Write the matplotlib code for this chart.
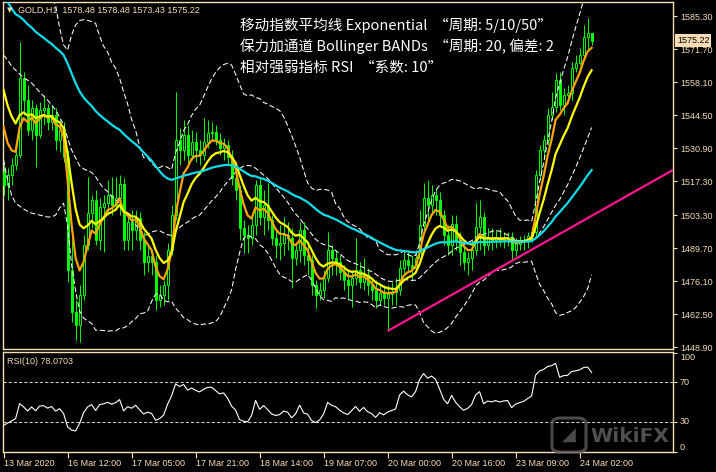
import numpy as np
import pandas as pd
import matplotlib
matplotlib.use("Agg")
import matplotlib.pyplot as plt
from matplotlib.patches import FancyBboxPatch
from matplotlib.transforms import blended_transform_factory

plt.rcParams['font.family'] = ['Liberation Sans', 'DejaVu Sans']

# ---------------- data (GOLD H1) ----------------
opens = [1521.0, 1515.7, 1519.8, 1523.9, 1528.0, 1559.8, 1550.7, 1538.3, 1547.4, 1536.3,
         1546.6, 1547.4, 1541.6, 1544.5, 1534.2, 1538.3, 1527.2, 1480.6, 1463.3, 1458.0,
         1470.3, 1490.9, 1504.1, 1509.5, 1493.0, 1506.6, 1508.2, 1511.5, 1507.4, 1510.3,
         1516.1, 1493.0, 1500.4, 1497.1, 1502.1, 1493.0, 1483.9, 1486.4, 1483.9, 1468.3,
         1470.3, 1474.4, 1488.9, 1503.3, 1534.2, 1530.1, 1536.3, 1528.0, 1533.4, 1530.1,
         1528.0, 1533.4, 1537.1, 1537.5, 1534.2, 1530.9, 1532.2, 1527.2, 1518.5, 1513.6,
         1497.9, 1495.1, 1493.8, 1499.2, 1515.7, 1502.5, 1507.4, 1501.2, 1493.8, 1490.9,
         1491.8, 1495.1, 1493.8, 1485.6, 1488.9, 1497.1, 1486.8, 1484.8, 1474.4, 1470.3,
         1472.4, 1477.3, 1488.9, 1485.6, 1483.9, 1479.8, 1476.5, 1474.4, 1477.3, 1480.6,
         1475.7, 1478.6, 1474.4, 1472.4, 1468.3, 1471.2, 1469.1, 1470.7, 1471.6, 1472.4,
         1481.5, 1484.8, 1482.7, 1481.5, 1485.6, 1499.2, 1510.3, 1507.4, 1511.5, 1509.5,
         1503.3, 1495.1, 1490.9, 1499.6, 1493.0, 1488.1, 1483.9, 1485.6, 1488.9, 1498.4,
         1502.5, 1490.9, 1493.8, 1493.0, 1494.2, 1493.0, 1493.8, 1494.2, 1488.9, 1491.3,
         1492.2, 1493.0, 1494.7, 1496.3, 1519.8, 1530.1, 1534.2, 1544.5, 1547.8, 1558.9,
         1548.6, 1552.8, 1553.6, 1563.9, 1565.9, 1569.2, 1576.7, 1578.48]
highs = [1523.9, 1522.7, 1526.8, 1533.0, 1574.6, 1562.2, 1556.9, 1550.7, 1549.0, 1549.9,
         1552.8, 1549.0, 1548.6, 1547.4, 1542.4, 1541.6, 1530.1, 1493.0, 1468.3, 1474.4,
         1495.1, 1519.0, 1511.5, 1513.6, 1510.3, 1511.5, 1517.7, 1519.0, 1519.0, 1519.8,
         1518.5, 1503.3, 1505.4, 1505.4, 1504.5, 1496.3, 1490.9, 1488.9, 1486.8, 1474.4,
         1476.5, 1491.8, 1507.4, 1554.0, 1539.1, 1542.4, 1540.4, 1538.3, 1537.5, 1534.2,
         1543.3, 1542.4, 1541.6, 1540.4, 1537.1, 1535.0, 1534.2, 1530.1, 1521.8, 1515.7,
         1501.2, 1499.2, 1503.3, 1517.7, 1518.5, 1513.6, 1516.5, 1503.3, 1497.1, 1499.2,
         1502.5, 1500.4, 1497.9, 1490.9, 1500.4, 1500.4, 1490.9, 1486.8, 1476.5, 1475.7,
         1480.6, 1496.3, 1490.9, 1488.9, 1486.8, 1482.7, 1480.6, 1480.6, 1493.8, 1483.9,
         1485.6, 1481.5, 1477.3, 1476.5, 1475.3, 1474.4, 1474.4, 1475.7, 1477.3, 1484.8,
         1488.1, 1488.9, 1486.8, 1488.9, 1505.4, 1516.5, 1517.7, 1515.7, 1514.4, 1512.8,
         1505.4, 1499.2, 1503.3, 1503.3, 1496.3, 1490.9, 1488.1, 1493.0, 1508.2, 1509.5,
         1504.5, 1497.9, 1497.9, 1497.1, 1497.9, 1496.3, 1496.3, 1496.3, 1493.8, 1494.7,
         1495.1, 1496.3, 1498.8, 1521.8, 1532.2, 1536.3, 1547.4, 1554.0, 1561.8, 1562.2,
         1555.6, 1556.9, 1566.3, 1569.2, 1572.1, 1581.6, 1584.5, 1578.48]
lows = [1511.5, 1509.5, 1515.7, 1521.8, 1526.8, 1544.5, 1536.3, 1534.2, 1523.1, 1535.0,
        1540.4, 1538.3, 1538.3, 1530.1, 1529.3, 1525.1, 1475.7, 1459.2, 1451.8, 1451.0,
        1468.3, 1488.9, 1497.9, 1490.9, 1488.9, 1488.1, 1503.3, 1503.3, 1505.4, 1503.3,
        1488.9, 1488.9, 1488.9, 1493.0, 1488.9, 1478.6, 1479.8, 1478.6, 1464.1, 1465.4,
        1466.2, 1468.3, 1486.8, 1501.2, 1523.9, 1526.0, 1523.9, 1526.0, 1525.1, 1523.9,
        1526.0, 1530.9, 1534.2, 1532.2, 1528.0, 1526.0, 1523.9, 1515.7, 1509.5, 1493.0,
        1487.6, 1487.6, 1490.9, 1495.1, 1499.2, 1495.1, 1497.1, 1490.9, 1485.6, 1484.8,
        1486.8, 1488.9, 1473.2, 1482.7, 1483.9, 1482.7, 1478.6, 1470.3, 1465.0, 1468.3,
        1469.1, 1475.7, 1478.6, 1478.6, 1476.5, 1472.4, 1468.3, 1465.4, 1474.4, 1473.2,
        1472.4, 1470.3, 1468.3, 1465.0, 1466.2, 1466.2, 1455.9, 1466.2, 1466.2, 1470.3,
        1478.6, 1479.8, 1476.5, 1479.8, 1483.9, 1496.3, 1499.2, 1503.3, 1503.3, 1499.2,
        1490.9, 1486.8, 1486.8, 1488.9, 1482.7, 1480.6, 1478.6, 1480.6, 1486.8, 1488.9,
        1486.8, 1488.9, 1488.9, 1489.7, 1490.5, 1489.7, 1490.5, 1484.8, 1486.4, 1488.9,
        1488.9, 1489.7, 1492.2, 1494.7, 1517.7, 1526.8, 1532.2, 1542.4, 1545.7, 1546.6,
        1544.5, 1550.7, 1550.7, 1562.2, 1565.1, 1568.0, 1571.3, 1573.43]
closes = [1515.7, 1519.8, 1523.9, 1528.0, 1559.8, 1550.7, 1538.3, 1547.4, 1536.3, 1546.6,
          1547.4, 1541.6, 1544.5, 1534.2, 1538.3, 1527.2, 1480.6, 1463.3, 1458.0, 1470.3,
          1490.9, 1504.1, 1509.5, 1493.0, 1506.6, 1508.2, 1511.5, 1507.4, 1510.3, 1516.1,
          1493.0, 1500.4, 1497.1, 1502.1, 1493.0, 1483.9, 1486.4, 1483.9, 1468.3, 1470.3,
          1474.4, 1488.9, 1503.3, 1534.2, 1530.1, 1536.3, 1528.0, 1533.4, 1530.1, 1528.0,
          1533.4, 1537.1, 1537.5, 1534.2, 1530.9, 1532.2, 1527.2, 1518.5, 1513.6, 1497.9,
          1495.1, 1493.8, 1499.2, 1515.7, 1502.5, 1507.4, 1501.2, 1493.8, 1490.9, 1491.8,
          1495.1, 1493.8, 1485.6, 1488.9, 1497.1, 1486.8, 1484.8, 1474.4, 1470.3, 1472.4,
          1477.3, 1488.9, 1485.6, 1483.9, 1479.8, 1476.5, 1474.4, 1477.3, 1480.6, 1475.7,
          1478.6, 1474.4, 1472.4, 1468.3, 1471.2, 1469.1, 1470.7, 1471.6, 1472.4, 1481.5,
          1484.8, 1482.7, 1481.5, 1485.6, 1499.2, 1510.3, 1507.4, 1511.5, 1509.5, 1503.3,
          1495.1, 1490.9, 1499.6, 1493.0, 1488.1, 1483.9, 1485.6, 1488.9, 1498.4, 1502.5,
          1490.9, 1493.8, 1493.0, 1494.2, 1493.0, 1493.8, 1494.2, 1488.9, 1491.3, 1492.2,
          1493.0, 1494.7, 1496.3, 1519.8, 1530.1, 1534.2, 1544.5, 1547.8, 1558.9, 1548.6,
          1552.8, 1553.6, 1563.9, 1565.9, 1569.2, 1576.7, 1578.5, 1575.22]

# indicator values already running at the first visible bar
ema5_start = 1539.6
ema10_start = 1554.8
ema50_start = 1594.0
rsi_start_gain = 4.0
rsi_start_loss = 11.0
bb_mid_head = [1569.2, 1567.2, 1564.7, 1563.0, 1561.4, 1559.8, 1558.9, 1557.7, 1556.0, 1554.0,
               1552.3, 1550.7, 1548.6, 1546.6, 1543.7, 1540.4, 1535.0, 1530.1, 1526.8]
bb_up_head = [1610.4, 1609.2, 1607.6, 1606.3, 1605.1, 1603.4, 1602.2, 1601.0, 1599.3, 1598.1,
              1596.8, 1595.2, 1593.1, 1589.8, 1580.4, 1573.4, 1571.3, 1577.5, 1581.6]
bb_lo_head = [1526.0, 1517.7, 1511.5, 1508.2, 1507.0, 1505.8, 1504.9, 1504.1, 1503.7, 1503.3,
              1502.9, 1502.5, 1502.5, 1503.3, 1506.2, 1508.2, 1498.8, 1482.7, 1472.0]

trend_bars = [96, 132]
trend_prices = [1455.5, 1489.0]

time_labels = ["13 Mar 2020", "16 Mar 12:00", "17 Mar 05:00", "17 Mar 21:00", "18 Mar 14:00",
               "19 Mar 07:00", "20 Mar 00:00", "20 Mar 16:00", "23 Mar 09:00", "24 Mar 02:00"]
time_label_bars = [0, 16, 32, 48, 64, 80, 96, 112, 128, 144]
price_ticks = [1585.30, 1571.70, 1558.10, 1544.50, 1530.90, 1517.30, 1503.30,
               1489.70, 1476.10, 1462.50, 1448.90]
rsi_ticks = [100, 70, 30, 0]
rsi_levels = [70, 30]
rsi_label = "RSI(10) 78.0703"
notes = ["移动指数平均线 Exponential  “周期: 5/10/50”",
         "保力加通道 Bollinger BANDs  “周期: 20, 偏差: 2",
         "相对强弱指标 RSI  “系数: 10”"]

# ---------------- indicators ----------------
o = np.array(opens); h = np.array(highs); l = np.array(lows); c = np.array(closes)
n = len(c)
xs = np.arange(n)
cs = pd.Series(c)

def seeded_ema(seed, span):
    s = pd.concat([pd.Series([seed]), cs.iloc[1:]], ignore_index=True)
    return s.ewm(span=span, adjust=False).mean().values

ema5 = seeded_ema(ema5_start, 5)
ema10 = seeded_ema(ema10_start, 10)
ema50 = seeded_ema(ema50_start, 50)

mid = cs.rolling(20).mean().values
sd = cs.rolling(20).std(ddof=0).values
up_b = mid + 2 * sd
lo_b = mid - 2 * sd
k = len(bb_mid_head)
mid[:k] = bb_mid_head
up_b[:k] = bb_up_head
lo_b[:k] = bb_lo_head

d = cs.diff()
g = pd.concat([pd.Series([rsi_start_gain]), d.clip(lower=0).iloc[1:]], ignore_index=True)
ls = pd.concat([pd.Series([rsi_start_loss]), (-d.clip(upper=0)).iloc[1:]], ignore_index=True)
ag = g.ewm(alpha=0.1, adjust=False).mean().values
al = ls.ewm(alpha=0.1, adjust=False).mean().values
rsi = 100 * ag / (ag + al)

# ---------------- figure ----------------
W, H = 716, 472
FG = '#F5DEB3'
LIME = '#00FF00'
fig = plt.figure(figsize=(W / 100, H / 100), dpi=100, facecolor='black')

def fx(px):
    return px / W

def fy(py):
    return 1 - py / H

Lx, Rx = 2.7, 673.0
ax = fig.add_axes([fx(Lx), fy(349), (Rx - Lx) / W, (349 - 2) / H], facecolor='black')
ax2 = fig.add_axes([fx(Lx), fy(451.7), (Rx - Lx) / W, (451.7 - 351.7) / H], facecolor='black')

for a in (ax, ax2):
    a.set_xlim(-0.225, 167.35)
    for sp in a.spines.values():
        sp.set_color(FG)
        sp.set_linewidth(1.0)

ax.set_ylim(1448.1, 1591.1)
ax2.set_ylim(0, 101)

# candles
ax.vlines(xs, l, h, colors=LIME, linewidth=0.7, zorder=2)
bull = c >= o
ax.bar(xs[bull], np.maximum(c[bull] - o[bull], 0.15), bottom=o[bull], width=0.5,
       facecolor='black', edgecolor=LIME, linewidth=0.7, zorder=3)
ax.bar(xs[~bull], o[~bull] - c[~bull], bottom=c[~bull], width=0.5,
       facecolor=LIME, edgecolor=LIME, linewidth=0.7, zorder=3)

# Bollinger
for band in (up_b, mid, lo_b):
    ax.plot(xs, band, color='white', linewidth=0.75, linestyle=(0, (5, 2.5)), zorder=4)

# EMAs
ax.plot(xs, ema5, color='#FFA500', linewidth=1.6, zorder=5)
ax.plot(xs, ema10, color='#FFFF00', linewidth=1.6, zorder=6)
ax.plot(xs, ema50, color='#10DCEC', linewidth=1.6, zorder=7)

# trend line (ray to the right)
slope = (trend_prices[1] - trend_prices[0]) / (trend_bars[1] - trend_bars[0])
x_end = ax.get_xlim()[1]
ax.plot([trend_bars[0], x_end],
        [trend_prices[0], trend_prices[0] + slope * (x_end - trend_bars[0])],
        color='#FF1493', linewidth=1.6, zorder=8, solid_capstyle='butt')

# main axis ticks
ax.set_xticks([])
ax.yaxis.tick_right()
ax.set_yticks(price_ticks)
ax.set_yticklabels([f"{v:.2f}" for v in price_ticks])
ax.tick_params(axis='y', colors=FG, length=3, width=0.8, pad=2, labelsize=6.5,
               labelcolor=FG)

# current price label
tr = blended_transform_factory(ax.transAxes, ax.transData)
ax.text(1.006, c[-1], f"{c[-1]:.2f}", transform=tr, ha='left', va='center',
        fontsize=6.5, color='black', clip_on=False, zorder=20,
        bbox=dict(boxstyle='square,pad=0.2', fc='#FADDB6', ec='none'))

# RSI panel
ax2.plot(xs, rsi, color='white', linewidth=0.8, zorder=3)
for lv in rsi_levels:
    ax2.axhline(lv, color='#D0D0D0', linewidth=0.75, linestyle=(0, (3, 2)), zorder=2)
ax2.yaxis.tick_right()
ax2.set_yticks(rsi_ticks)
ax2.set_yticklabels([str(v) for v in rsi_ticks])
for lbl, va in zip(ax2.get_yticklabels(), ['top', 'center', 'center', 'bottom']):
    lbl.set_verticalalignment(va)
ax2.tick_params(axis='y', colors=FG, length=3, width=0.8, pad=2, labelsize=6.5,
                labelcolor=FG)
ax2.set_xticks(time_label_bars)
ax2.set_xticklabels(time_labels, ha='left')
ax2.tick_params(axis='x', colors=FG, length=4, width=0.8, pad=1.5, labelsize=6.5,
                labelcolor=FG)

# header texts
fig.text(fx(6.5), fy(10), '▼', color=FG, fontsize=5, va='center', ha='left',
         family=['DejaVu Sans'])
fig.text(fx(18), fy(10),
         f"GOLD,H1  {o[-1]:.2f} {h[-1]:.2f} {l[-1]:.2f} {c[-1]:.2f}",
         color=FG, fontsize=6.5, va='center', ha='left')
fig.text(fx(7), fy(361), rsi_label, color=FG, fontsize=6.5, va='center', ha='left')

for i, t in enumerate(notes):
    fig.text(fx(240), fy(25 + 21.3 * i), t, color='white', fontsize=10.5,
             va='center', ha='left', family=['Noto Sans CJK SC', 'DejaVu Sans'], zorder=30)

# watermark
logo = FancyBboxPatch((fx(552), fy(452)), fx(34), 34 / H,
                      boxstyle='round,pad=0,rounding_size=0.012',
                      transform=fig.transFigure, facecolor='none',
                      edgecolor='#5E5E5E', linewidth=2.2, alpha=0.8, zorder=40)
fig.patches.append(logo)
fig.text(fx(569), fy(435), '◢', color='#5E5E5E', fontsize=13, ha='center', va='center',
         family=['DejaVu Sans'], alpha=0.8, zorder=41)
fig.text(fx(590), fy(436), 'WikiFX', color='#5E5E5E', fontsize=14.5, fontweight='bold',
         ha='left', va='center', family=['DejaVu Sans'], alpha=0.85, zorder=41)

fig.savefig('out.png', dpi=100, facecolor='black')
